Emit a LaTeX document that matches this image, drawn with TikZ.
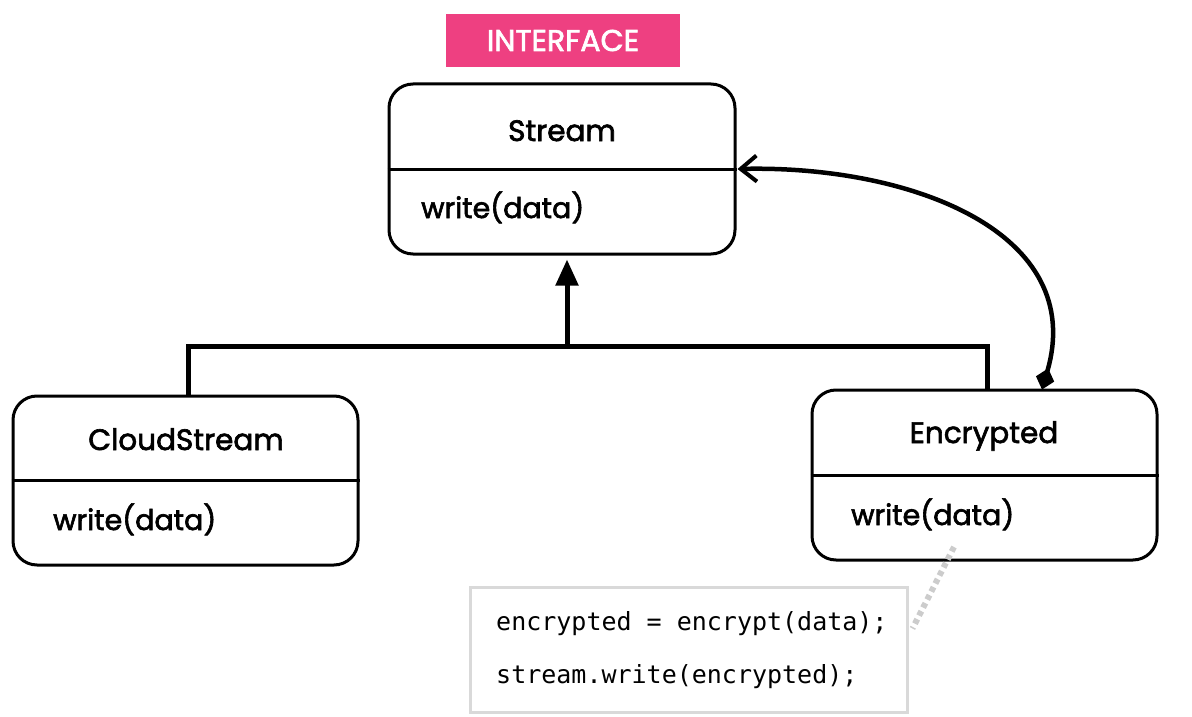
\documentclass[tikz,border=0pt]{standalone}
\usepackage{fontspec}
\setmainfont{Poppins}
\newfontfamily\medfont{Poppins}[FakeBold=2.2]
\newfontfamily\codefont{DejaVu Sans Mono}
\usetikzlibrary{arrows.meta}
\definecolor{ifpink}{HTML}{EE4081}
\definecolor{codegray}{HTML}{D9D9D9}
\definecolor{dotgray}{HTML}{CCCCCC}
\begin{document}
\begin{tikzpicture}[x=1pt,y=-1pt,
  umlbox/.style={draw=black, line width=3pt, rounded corners=24pt, fill=white, inner sep=0pt},
  divider/.style={draw=black, line width=3pt},
  conn/.style={draw=black, line width=5pt, line join=miter},
  title/.style={font=\medfont\fontsize{29.5}{35}\selectfont, anchor=base, inner sep=0pt},
  member/.style={font=\medfont\fontsize{28.5}{34}\selectfont, anchor=base west, inner sep=0pt},
  codetext/.style={font=\codefont\fontsize{25}{30}\selectfont, anchor=base west, inner sep=0pt},
  tag/.style={fill=ifpink, text=white, inner sep=0pt, font=\medfont\fontsize{30}{36}\selectfont}
]
\useasboundingbox (0,0) rectangle (1192,717);
\fill[white] (0,0) rectangle (1192,717);

% interface tag
\node[tag, minimum width=234pt, minimum height=53pt] (tagbox) at (563,40.5) {INTERFACE};

% Stream
\node[umlbox, minimum width=346pt, minimum height=170pt] (stream) at (562,169) {};
\draw[divider] (stream.west) -- (stream.east);
\node[title] (streamt) at (562,141) {Stream};
\node[member] (streamm) at (421,218) {write(data)};

% CloudStream
\node[umlbox, minimum width=345pt, minimum height=169pt] (cloud) at (185.5,480.5) {};
\draw[divider] (cloud.west) -- (cloud.east);
\node[title] (cloudt) at (186,450) {CloudStream};
\node[member] (cloudm) at (53,530) {write(data)};

% Encrypted
\node[umlbox, minimum width=345pt, minimum height=170pt] (enc) at (984.5,475) {};
\draw[divider] (enc.west) -- (enc.east);
\node[title] (enct) at (984,443) {Encrypted};
\node[member] (encm) at (851,525) {write(data)};

% inheritance
\coordinate (junc) at (567,346);
\coordinate (cloudtop) at ([xshift=2.5pt]cloud.north);
\coordinate (enctop) at ([xshift=2.5pt]enc.north);
\draw[conn] (cloudtop) |- (junc) -| (enctop);
\draw[conn, -{Triangle[length=26pt,width=22pt]}, shorten >=4pt] (junc) -- (stream.south -| junc);

% aggregation / wrapping curve
\coordinate (wrapstart) at ([xshift=57.5pt,yshift=-1pt]enc.north);
\draw[line width=4.5pt, {Diamond[length=22pt,width=19pt]}-{Straight Barb[length=16pt,width=26pt,line width=4pt]}]
  (wrapstart) .. controls (1088,232) and (910,165) .. ([xshift=1pt]stream.east);

% code note
\node[draw=codegray, line width=3pt, minimum width=437pt, minimum height=125pt, inner sep=0pt, fill=white] (code) at (688.5,649.5) {};
\node[codetext] (code1) at (496,630) {encrypted = encrypt(data);};
\node[codetext] (code2) at (496,683) {stream.write(encrypted);};

% dotted link
\coordinate (notestart) at (954,547);
\coordinate (noteend) at ([xshift=4pt,yshift=21pt]code.east);
\draw[dotgray, line width=6pt, dash pattern=on 5pt off 4pt] (notestart) -- (noteend);
\end{tikzpicture}
\end{document}
